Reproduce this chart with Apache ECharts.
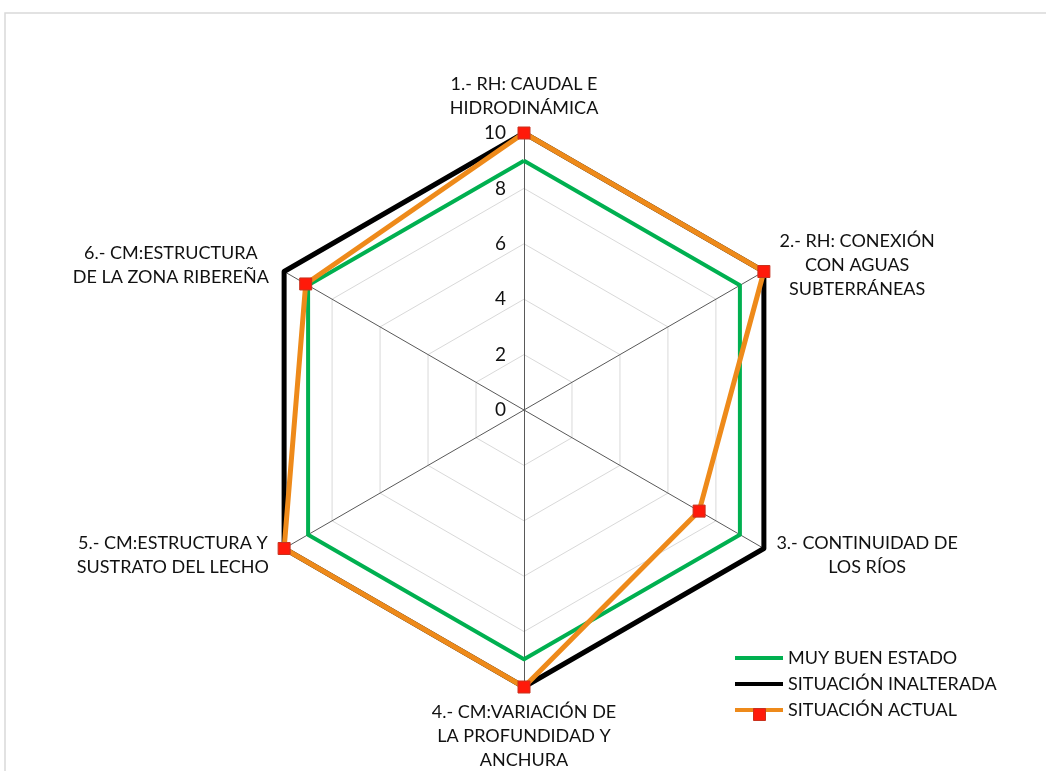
<!DOCTYPE html>
<html>
<head>
<meta charset="utf-8">
<script src="https://cdn.jsdelivr.net/npm/echarts@6/dist/echarts.min.js"></script>
<style>
  html, body { margin: 0; padding: 0; background: #fff; }
  #main { width: 1046px; height: 771px; }
</style>
</head>
<body>
<div id="main"></div>
<script>
// indicators, in the clockwise order of the picture
var indicatorNames = [
  '1.- RH: CAUDAL E\nHIDRODINÁMICA',
  '2.- RH: CONEXIÓN\nCON AGUAS\nSUBTERRÁNEAS',
  '3.- CONTINUIDAD DE\nLOS RÍOS',
  '4.- CM:VARIACIÓN DE\nLA PROFUNDIDAD Y\nANCHURA',
  '5.- CM:ESTRUCTURA Y\nSUSTRATO DEL LECHO',
  '6.- CM:ESTRUCTURA\nDE LA ZONA RIBEREÑA'
]
var axisMax = 10

var muyBuenEstado = [9, 9, 9, 9, 9, 9]
var situacionInalterada = [10, 10, 10, 10, 10, 10]
var situacionActual = [10, 10, 7.3, 10, 10, 9.1]

var seriesNames = ['MUY BUEN ESTADO', 'SITUACIÓN INALTERADA', 'SITUACIÓN ACTUAL']

// echarts goes counterclockwise, so keep the first and flip the rest
var order = [0, 5, 4, 3, 2, 1]
function reorder(arr) {
  return order.map(function(i) { return arr[i] })
}

var nameWidths = [200, 164, 184, 200, 200, 204]
var font = 'Lato, "Open Sans", sans-serif'
var textColor = '#111'
var fontSize = 18

var chart = echarts.init(document.getElementById('main'))

var tickLabel = { show: true, color: '#111', fontFamily: font, fontSize: 19, margin: 18 }

var option = {
  backgroundColor: '#fff',
  animation: false,
  graphic: [
    {
      type: 'rect',
      shape: { x: 5, y: 13, width: 1100, height: 800 },
      style: { fill: 'none', stroke: '#d9d9d9', lineWidth: 1.5 },
      silent: true
    }
  ],
  legend: [
    {
      orient: 'vertical',
      left: 735,
      top: 649,
      padding: 0,
      itemWidth: 48,
      itemHeight: 4,
      itemGap: 8,
      icon: 'rect',
      selectedMode: false,
      textStyle: { fontFamily: font, fontSize: fontSize, color: textColor },
      data: [
        { name: seriesNames[0], itemStyle: { color: '#00b050', borderWidth: 0 } },
        { name: seriesNames[1], itemStyle: { color: '#000000', borderWidth: 0 } },
        { name: seriesNames[2], itemStyle: { color: '#ee8a1a', borderWidth: 0 } }
      ]
    },
    {
      // red square marker on top of the orange legend line
      orient: 'vertical',
      left: 753,
      top: 708,
      padding: 0,
      itemWidth: 12,
      itemHeight: 12,
      icon: 'rect',
      selectedMode: false,
      formatter: function() { return '' },
      textStyle: { fontSize: 1 },
      data: [
        { name: seriesNames[2], itemStyle: { color: '#ff1a0a', borderColor: '#c8321e', borderWidth: 1 } }
      ]
    }
  ],
  radar: {
    center: [524, 410],
    radius: 277,
    startAngle: 90,
    shape: 'polygon',
    splitNumber: 5,
    nameGap: 13,
    axisName: {
      color: textColor,
      fontFamily: font,
      fontSize: fontSize,
      lineHeight: 24,
      formatter: function(name) {
        var w = nameWidths[indicatorNames.indexOf(name)]
        return name.split('\n').map(function(line) {
          return '{w' + w + '|' + line + '}'
        }).join('\n')
      },
      rich: (function() {
        var r = {}
        nameWidths.forEach(function(w) {
          r['w' + w] = { width: w, align: 'center', color: textColor, fontFamily: font, fontSize: fontSize, lineHeight: 24 }
        })
        return r
      })()
    },
    splitLine: { lineStyle: { color: '#d9d9d9', width: 1 } },
    splitArea: { show: false },
    axisLine: { lineStyle: { color: '#595959', width: 1 } },
    axisTick: { show: false },
    axisLabel: { show: false, color: '#111', fontFamily: font, fontSize: 19, margin: 18 },
    indicator: reorder(indicatorNames).map(function(name, i) {
      var ind = { name: name, min: 0, max: axisMax }
      if (i === 0) ind.axisLabel = tickLabel
      return ind
    })
  },
  series: [
    {
      type: 'radar',
      data: [
        {
          name: seriesNames[0],
          value: reorder(muyBuenEstado),
          symbol: 'none',
          lineStyle: { color: '#00b050', width: 4 },
          itemStyle: { color: '#00b050' }
        },
        {
          name: seriesNames[1],
          value: reorder(situacionInalterada),
          symbol: 'none',
          lineStyle: { color: '#000000', width: 5 },
          itemStyle: { color: '#000000' }
        },
        {
          name: seriesNames[2],
          value: reorder(situacionActual),
          symbol: 'rect',
          symbolSize: 12,
          lineStyle: { color: '#ee8a1a', width: 5 },
          itemStyle: { color: '#ff1a0a', borderColor: '#c8321e', borderWidth: 1 }
        }
      ]
    }
  ]
}

chart.setOption(option)
</script>
</body>
</html>
